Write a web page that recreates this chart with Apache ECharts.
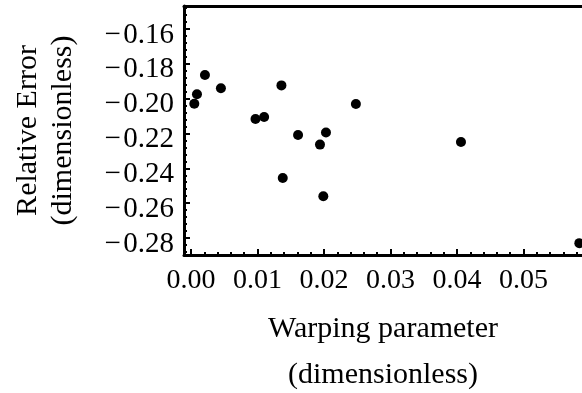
<!DOCTYPE html>
<html>
<head>
<meta charset="utf-8">
<script src="https://cdn.jsdelivr.net/npm/echarts@6/dist/echarts.min.js"></script>
<style>
  html, body { margin: 0; padding: 0; background: #fff; }
  #chart { width: 582px; height: 393px; }
</style>
</head>
<body>
<div id="chart"></div>
<script>
// warping parameter (x) and relative error (y)
var warping = [0.0005, 0.0009, 0.0021, 0.0045, 0.0097, 0.0110, 0.0136, 0.0138,
  0.0161, 0.0194, 0.0199, 0.0203, 0.0248, 0.0406, 0.0584]
var relError = [-0.2029, -0.1975, -0.1864, -0.1940, -0.2117, -0.2105, -0.1924, -0.2456,
  -0.2209, -0.2264, -0.2561, -0.2194, -0.2031, -0.2249, -0.2830]

var xTicks = [0, 0.01, 0.02, 0.03, 0.04, 0.05]
var yTicks = [-0.28, -0.26, -0.24, -0.22, -0.20, -0.18, -0.16]

var xMin = -0.00105
var xMax = 0.0588
var yMin = -0.2898
var yMax = -0.1468

var FONT = 'Liberation Serif'

// minor ticks: five per major step
function minors(majors, step, lo, hi) {
  var out = []
  var first = majors[0] - step
  for (var v = first; v <= hi + 1e-9; v += step / 5) {
    var r = Math.round(v * 10000) / 10000
    if (r >= lo && r <= hi) out.push(r)
  }
  return out
}
var xMinor = minors(xTicks, 0.01, xMin, xMax)
var yMinor = minors(yTicks, 0.02, yMin, yMax)

var points = warping.map(function(x, i) { return [x, relError[i]] })

var chart = echarts.init(document.getElementById('chart'))
var line = { show: true, onZero: false, lineStyle: { color: '#000', width: 3 } }

chart.setOption({
  animation: false,
  grid: { left: 184, top: 6, right: 0, bottom: 138, outerBoundsMode: 'none', containLabel: false },
  xAxis: [{
    type: 'value',
    position: 'bottom',
    min: xMin,
    max: xMax,
    axisLine: line,
    splitLine: { show: false },
    axisTick: { show: true, inside: true, length: 6, customValues: xTicks,
      lineStyle: { color: '#000', width: 2 } },
    axisLabel: { customValues: xTicks, margin: 12, color: '#000', fontFamily: FONT, fontSize: 28,
      formatter: function(v) { return v.toFixed(2) } },
    name: 'Warping parameter\n(dimensionless)',
    nameLocation: 'middle',
    nameGap: 51,
    nameTextStyle: { color: '#000', fontFamily: FONT, fontSize: 30, lineHeight: 46 }
  }, {
    type: 'value',
    position: 'bottom',
    min: xMin,
    max: xMax,
    axisLine: { show: false, onZero: false },
    splitLine: { show: false },
    axisTick: { show: true, inside: true, length: 3, customValues: xMinor,
      lineStyle: { color: '#000', width: 2 } },
    axisLabel: { show: false }
  }, {
    type: 'value',
    position: 'top',
    min: xMin,
    max: xMax,
    axisLine: line,
    splitLine: { show: false },
    axisTick: { show: false },
    axisLabel: { show: false }
  }],
  yAxis: [{
    type: 'value',
    position: 'left',
    min: yMin,
    max: yMax,
    axisLine: line,
    splitLine: { show: false },
    axisTick: { show: true, inside: true, length: 6, customValues: yTicks,
      lineStyle: { color: '#000', width: 2 } },
    axisLabel: { customValues: yTicks, margin: 10, color: '#000', fontFamily: FONT, fontSize: 29,
      verticalAlign: 'top', lineHeight: 12,
      formatter: function(v) { return '\u2212\u200a' + Math.abs(v).toFixed(2) } },
    name: 'Relative Error\n(dimensionless)',
    nameLocation: 'middle',
    nameRotate: 90,
    nameGap: 103,
    nameTextStyle: { color: '#000', fontFamily: FONT, fontSize: 30, lineHeight: 35 }
  }, {
    type: 'value',
    position: 'left',
    min: yMin,
    max: yMax,
    axisLine: { show: false, onZero: false },
    splitLine: { show: false },
    axisTick: { show: true, inside: true, length: 3, customValues: yMinor,
      lineStyle: { color: '#000', width: 2 } },
    axisLabel: { show: false }
  }],
  series: [{
    type: 'scatter',
    data: points,
    symbol: 'circle',
    symbolSize: 10,
    clip: false,
    itemStyle: { color: '#000', opacity: 1 }
  }]
})
</script>
</body>
</html>
